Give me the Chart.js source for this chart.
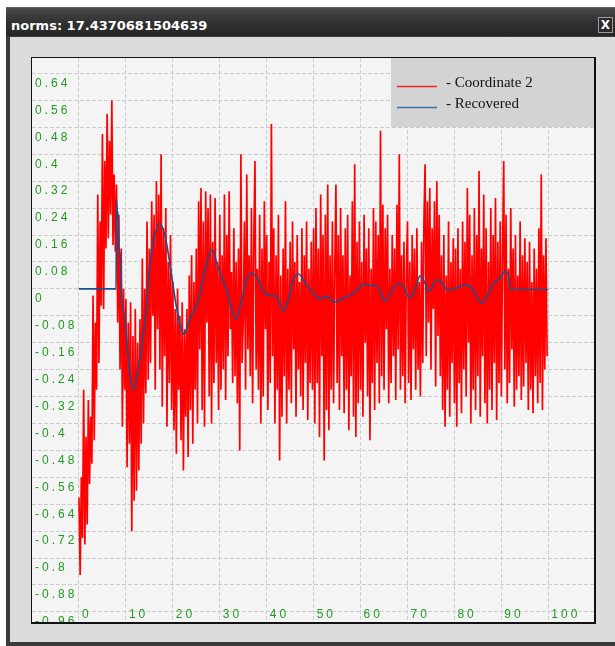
<!DOCTYPE html>
<html>
<head>
<meta charset="utf-8">
<script src="https://cdn.jsdelivr.net/npm/chart.js@4"></script>
<style>
  body { margin: 0; background: #fff; width: 615px; height: 646px; overflow: hidden; position: relative; }
  #win { position: absolute; left: 6px; top: 7px; width: 609px; height: 639px; background: #3a3a3a; }
  #bar { position: absolute; left: 6px; top: 7px; width: 609px; height: 29px;
         background: linear-gradient(#6a6a6a 0, #474747 2px, #303030 55%, #262626 100%);
         color: #fff; font: bold 13px "DejaVu Sans"; }
  #bar span { position: absolute; left: 5px; top: 11px; line-height: 15px; white-space: nowrap; }
  #close { position: absolute; left: 592px; top: 10px; width: 13px; height: 14px; border: 1px solid #9c9c9c;
           background: #2b2b2b; font: bold 12px "DejaVu Sans"; line-height: 14px; text-align: center; }
  #body { position: absolute; left: 10px; top: 37px; width: 605px; height: 605px; background: #dcdcdc; }
  #plot { position: absolute; left: 31px; top: 57px; width: 562px; height: 564px;
          border: 1px solid #111; border-right-width: 2px; border-bottom-width: 2px; background: #f4f4f4; }
  canvas { display: block; }
</style>
</head>
<body>
<div id="win"></div>
<div id="bar"><span>norms: 17.4370681504639</span><div id="close">X</div></div>
<div id="body"></div>
<div id="plot"><canvas id="grafico" width="562" height="564"></canvas></div>
<script>
// series names
const seriesNames = ['Coordinate 2', 'Recovered'];

// Coordinate 2: one value every 0.25 from x = 0
const sampleStep = 0.25;
const coordinate2 = [
  -0.62, -0.85, -0.56, -0.74, -0.30, -0.76, -0.44, -0.70, -0.33, -0.58, -0.38, -0.52, -0.02, -0.45, -0.10, -0.30, 0.28, -0.22, 0.20, -0.05,
  0.46, -0.06, 0.38, 0.12, 0.52, 0.15, 0.44, 0.22, 0.56, 0.13, 0.34, 0.11, 0.31, -0.10, 0.22, -0.24, 0.12, -0.41, 0.00, -0.30,
  -0.03, -0.53, -0.10, -0.46, -0.04, -0.72, -0.14, -0.63, -0.06, -0.60, -0.16, -0.54, -0.09, -0.46, 0.09, -0.40, 0.00, -0.31, 0.20, -0.27,
  0.12, -0.22, 0.26, -0.08, 0.22, -0.30, 0.32, -0.12, 0.28, -0.24, 0.40, -0.35, 0.18, -0.20, 0.24, -0.41, 0.08, -0.28, 0.16, -0.36,
  0.02, -0.42, -0.06, -0.49, 0.00, -0.30, -0.08, -0.45, -0.04, -0.54, -0.12, -0.38, -0.06, -0.50, 0.04, -0.36, 0.10, -0.46, 0.02, -0.30,
  0.12, -0.40, 0.26, -0.18, 0.30, -0.36, 0.20, -0.41, 0.29, -0.10, 0.24, -0.32, 0.28, -0.40, 0.14, -0.28, 0.27, -0.22, 0.08, -0.36,
  0.22, -0.30, 0.10, -0.24, 0.28, -0.33, 0.16, -0.20, 0.29, -0.12, 0.05, -0.28, 0.18, -0.26, 0.08, -0.34, 0.12, -0.48, 0.40, -0.22,
  -0.10, 0.20, -0.30, 0.34, -0.18, 0.10, -0.26, 0.24, -0.34, 0.14, 0.38, -0.24, 0.06, -0.30, 0.22, -0.40, 0.12, -0.32, 0.26, -0.12,
  0.16, -0.36, 0.08, -0.28, 0.49, -0.20, 0.18, -0.40, 0.10, -0.30, 0.22, -0.51, 0.04, -0.38, 0.12, -0.26, 0.26, -0.40, 0.06, -0.30,
  0.14, -0.34, 0.20, -0.18, 0.08, -0.38, 0.16, -0.24, 0.02, -0.32, 0.18, -0.36, 0.10, -0.22, 0.20, -0.39, 0.06, -0.28, 0.14, -0.30,
  0.18, -0.40, 0.24, -0.28, 0.12, -0.44, 0.28, -0.20, 0.16, -0.51, 0.22, -0.36, 0.31, -0.42, 0.10, -0.30, 0.20, -0.34, 0.06, 0.31,
  -0.28, 0.16, -0.36, 0.24, -0.20, 0.10, -0.37, 0.18, -0.30, 0.22, -0.42, 0.04, -0.26, 0.26, -0.38, 0.37, -0.44, 0.14, -0.34, 0.20,
  -0.30, 0.08, -0.38, 0.22, -0.16, 0.12, -0.32, 0.18, -0.45, 0.06, -0.28, 0.24, -0.36, 0.20, -0.22, 0.16, -0.34, 0.47, -0.26, 0.25,
  -0.30, 0.18, -0.12, 0.22, -0.34, 0.06, -0.28, 0.16, -0.20, 0.12, -0.33, 0.25, -0.18, 0.40, -0.30, 0.10, -0.26, 0.14, -0.34, 0.05,
  0.20, -0.28, 0.08, -0.33, 0.16, -0.18, 0.12, -0.30, 0.18, -0.24, 0.02, -0.32, 0.14, -0.22, 0.20, 0.37, -0.20, 0.26, -0.10, 0.30,
  -0.24, 0.18, -0.06, 0.26, -0.29, 0.32, -0.14, 0.22, -0.26, 0.10, -0.36, 0.16, -0.41, 0.04, -0.30, 0.20, -0.38, 0.08, -0.22, 0.15,
  -0.34, 0.12, -0.41, 0.18, -0.28, 0.06, -0.37, 0.20, -0.24, 0.14, -0.32, 0.30, -0.16, 0.22, -0.40, 0.10, -0.30, 0.24, -0.36, 0.16,
  -0.26, 0.35, -0.38, 0.12, -0.20, 0.28, -0.34, 0.18, -0.40, 0.08, -0.30, 0.24, -0.36, 0.16, -0.22, 0.27, -0.39, 0.14, -0.28, 0.20,
  -0.32, 0.10, 0.38, -0.24, 0.22, -0.34, 0.06, -0.28, 0.24, -0.18, 0.12, -0.35, 0.16, -0.30, 0.04, -0.26, 0.20, -0.33, 0.10, -0.29,
  0.15, -0.22, 0.08, -0.36, 0.14, -0.30, 0.02, -0.37, 0.12, -0.26, 0.06, -0.34, 0.18, -0.28, 0.34, -0.36, 0.10, -0.24, 0.15, -0.20
];

// Recovered (smooth curve)
const recoveredX = [0, 7.9, 8.0, 8.2, 8.3, 8.5, 8.8, 9.1, 9.8, 10.4, 11.0, 11.6, 12.6, 13.4, 14.3, 15.1, 16.2, 17.1, 18.3, 19.4,
  20.8, 22.4, 23.7, 25.4, 26.8, 28.3, 29.7, 31.5, 33.4, 34.7, 35.7, 36.8, 38.2, 39.3, 40.7, 42.1, 43.5, 44.6, 45.7, 46.7,
  48.2, 49.6, 51.3, 52.8, 54.5, 56.3, 58.1, 59.5, 60.6, 62.0, 63.4, 65.2, 66.7, 68.0, 69.1, 70.4, 71.6, 72.7, 73.7, 74.6,
  76.2, 77.3, 78.5, 80.5, 82.2, 83.7, 85.8, 86.9, 88.3, 89.7, 90.8, 91.5, 92.0, 100];
const recoveredY = [0, 0, 0.266, 0.21, 0.23, 0.12, 0.10, -0.02, -0.09, -0.19, -0.27, -0.30, -0.24, -0.17, -0.066, 0.072, 0.16, 0.195, 0.16, 0.072,
  -0.056, -0.135, -0.086, -0.037, 0.052, 0.116, 0.062, -0.007, -0.09, -0.032, 0.027, 0.047, 0.027, -0.007, -0.02, -0.022, -0.066, -0.032, 0.027, 0.045,
  0.018, -0.007, -0.029, -0.022, -0.04, -0.027, -0.017, 0, 0.015, 0.01, 0.01, -0.037, -0.005, 0.016, 0.008, -0.027, -0.002, 0.039, 0.018, -0.008,
  0.027, 0.018, -0.004, 0.003, 0.012, 0.003, -0.043, -0.022, 0.016, 0.032, 0.052, 0.042, -0.002, -0.002];

// tick labels
const xTicks = [0, 10, 20, 30, 40, 50, 60, 70, 80, 90, 100];
const yTicks = [-0.96, -0.88, -0.8, -0.72, -0.64, -0.56, -0.48, -0.4, -0.32, -0.24, -0.16, -0.08,
  0, 0.08, 0.16, 0.24, 0.32, 0.4, 0.48, 0.56, 0.64];

const tickGreen = '#229a22';
const gridGray = '#cdcdcd';

// wide spaced mono labels like the original
const monoSpacing = {
  id: 'monoSpacing',
  beforeDraw(chart) { chart.ctx.letterSpacing = '3px'; },
  afterDraw(chart) { chart.ctx.letterSpacing = '0px'; }
};

// legend box in the top right corner
const boxLegend = {
  id: 'boxLegend',
  afterDatasetsDraw(chart) {
    const ctx = chart.ctx;
    const a = chart.chartArea;
    ctx.save();
    ctx.letterSpacing = '0px';
    ctx.fillStyle = '#d3d3d3';
    ctx.fillRect(a.right - 203, a.top, 203, 69);
    ctx.font = '15px "Liberation Serif"';
    ctx.textBaseline = 'alphabetic';
    chart.data.datasets.forEach((ds, i) => {
      const y = a.top + 28 + i * 21;
      ctx.strokeStyle = ds.legendColor;
      ctx.lineWidth = 1.3;
      ctx.beginPath();
      ctx.moveTo(a.right - 197, y + 0.5);
      ctx.lineTo(a.right - 157, y + 0.5);
      ctx.stroke();
      ctx.fillStyle = '#111';
      ctx.fillText('- ' + ds.label, a.right - 148, y + 1);
    });
    ctx.restore();
  }
};

function flatScale(s) {
  if (s.isHorizontal()) s.height = 0; else s.width = 0;
  s.paddingTop = 0; s.paddingBottom = 0; s.paddingLeft = 0; s.paddingRight = 0;
}

const ctx = document.getElementById('grafico').getContext('2d');
new Chart(ctx, {
  type: 'line',
  data: {
    datasets: [{
      label: seriesNames[0],
      data: coordinate2.map((v, i) => ({ x: i * sampleStep, y: v })),
      borderColor: '#ff0000',
      legendColor: '#ff2020',
      borderWidth: 1.7,
      pointRadius: 0,
      tension: 0,
      order: 2
    }, {
      label: seriesNames[1],
      data: recoveredX.map((x, i) => ({ x: x, y: recoveredY[i] })),
      borderColor: '#1c4f8c',
      legendColor: '#4272aa',
      borderWidth: 1.6,
      pointRadius: 0,
      cubicInterpolationMode: 'monotone',
      order: 1
    }]
  },
  options: {
    responsive: false,
    animation: false,
    devicePixelRatio: 1,
    layout: { padding: 0, autoPadding: false },
    font: { family: '"DejaVu Sans Mono"', size: 14 },
    plugins: { legend: { display: false }, tooltip: { enabled: false } },
    scales: {
      x: {
        type: 'linear',
        position: 'bottom',
        bounds: 'data',
        min: -10.01,
        max: 109.74,
        afterBuildTicks: (s) => { s.ticks = xTicks.map(v => ({ value: v })); },
        afterFit: flatScale,
        grid: { color: gridGray, lineWidth: 1, drawTicks: false },
        border: { display: false, dash: [4, 2] },
        ticks: {
          mirror: true,
          align: 'start',
          padding: 0,
          labelOffset: 3,
          autoSkip: false,
          maxRotation: 0,
          color: tickGreen,
          callback: (v) => String(v)
        }
      },
      y: {
        type: 'linear',
        position: 'left',
        bounds: 'data',
        min: -0.99,
        max: 0.686,
        afterBuildTicks: (s) => { s.ticks = yTicks.map(v => ({ value: v })); },
        afterFit: flatScale,
        grid: { color: gridGray, lineWidth: 1, drawTicks: false },
        border: { display: false, dash: [4, 2] },
        ticks: {
          mirror: true,
          padding: 3,
          labelOffset: 10,
          autoSkip: false,
          color: tickGreen,
          callback: (v) => String(v)
        }
      }
    }
  },
  plugins: [monoSpacing, boxLegend]
});
</script>
</body>
</html>
